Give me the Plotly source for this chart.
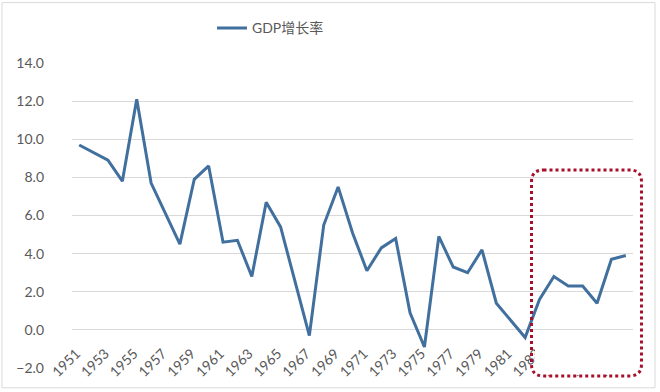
import plotly.graph_objects as go

years = list(range(1951, 1990))
gdp_growth = [9.7, 9.3, 8.9, 7.8, 12.1, 7.7, 6.1, 4.5, 7.9, 8.6,
              4.6, 4.7, 2.8, 6.7, 5.4, 2.6, -0.3, 5.5, 7.5, 5.1,
              3.1, 4.3, 4.8, 0.9, -0.9, 4.9, 3.3, 3.0, 4.2, 1.4,
              0.5, -0.4, 1.6, 2.8, 2.3, 2.3, 1.4, 3.7, 3.9]
series_name = "GDP增长率"
x_tick_years = list(range(1951, 1990, 2))
x_tick_labels = [str(y) for y in x_tick_years]
y_ticks = [-2, 0, 2, 4, 6, 8, 10, 12, 14]

FONT = "Lato, 'Noto Sans CJK SC', sans-serif"
GREY = "#595959"

fig = go.Figure()
fig.add_trace(go.Scatter(
    x=years, y=gdp_growth, mode="lines", name=series_name,
    line=dict(color="#41709E", width=3),
))

# plot area in pixels: x 72..633, y 62..370
L, R, T, B = 72, 633, 62, 370
W, H = R - L, B - T
def px(x):
    return (x - L) / W
def py(y):
    return (B - y) / H

bx0, bx1, by0, by1 = px(531.5), px(641.5), py(378), py(170)
rx, ry = 12 / W, 12 / H
path = (f"M {bx0+rx},{by1} L {bx1-rx},{by1} Q {bx1},{by1} {bx1},{by1-ry} "
        f"L {bx1},{by0+ry} Q {bx1},{by0} {bx1-rx},{by0} "
        f"L {bx0+rx},{by0} Q {bx0},{by0} {bx0},{by0+ry} "
        f"L {bx0},{by1-ry} Q {bx0},{by1} {bx0+rx},{by1} Z")

shapes = [
    dict(type="rect", xref="paper", yref="paper", x0=px(2), x1=px(655), y0=py(390), y1=py(1),
         line=dict(color="#D9D9D9", width=1), layer="below"),
    dict(type="rect", xref="paper", yref="paper", x0=px(535), x1=px(639), y0=py(377), y1=py(340),
         fillcolor="white", line=dict(width=0), layer="above"),
    dict(type="path", xref="paper", yref="paper", path=path,
         line=dict(color="#A8102A", width=3, dash="dot"), layer="above"),
]

fig.update_layout(
    width=660, height=392,
    margin=dict(l=L, r=660 - R, t=T, b=392 - B),
    paper_bgcolor="white", plot_bgcolor="white",
    font=dict(family=FONT, size=14, color=GREY),
    showlegend=True,
    legend=dict(orientation="h", x=px(212), xanchor="left", y=py(27), yanchor="middle",
                bgcolor="rgba(0,0,0,0)", font=dict(size=14, color=GREY)),
    xaxis=dict(
        range=[1950.5, 1989.5], tickmode="array", tickvals=x_tick_years, ticktext=x_tick_labels,
        tickangle=-45, showgrid=False, zeroline=False, showline=False, ticks="",
        anchor="free", position=py(331.5), ticklabelstandoff=12, ticklabelshift=-3,
        tickfont=dict(size=14, color=GREY),
    ),
    yaxis=dict(
        range=[-2, 14], tickmode="array", tickvals=y_ticks, tickformat=".1f",
        showgrid=True, gridcolor="#D9D9D9", gridwidth=1, zeroline=False,
        showline=False, ticks="", ticklabelstandoff=27,
        tickfont=dict(size=14, color=GREY),
    ),
    shapes=shapes,
)

fig.write_html("out.html", config={"displayModeBar": False},
               post_script="document.body.style.margin='0';")
